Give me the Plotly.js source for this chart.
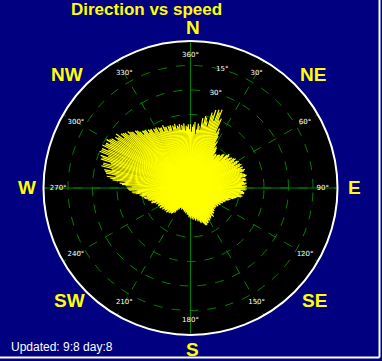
<!DOCTYPE html>
<html>
<head>
<meta charset="utf-8">
<script src="https://cdn.plot.ly/plotly-3.0.1.min.js"></script>
<style>
html,body{margin:0;padding:0;background:#000080;}
#chart{width:382px;height:361px;}
</style>
</head>
<body>
<div id="chart"></div>
<script>
// Wind samples: direction (degrees, clockwise from north) and speed (ring units)
const direction = [0,2,4,6,8,10,12,14,16,18,20,22,24,26,28,30,32,34,36,38,40,42,44,46,48,50,52,54,56,58,
  60,62,64,66,68,70,72,74,76,78,80,82,84,86,88,90,92,94,96,98,100,102,104,106,108,110,112,114,116,118,
  120,122,124,126,128,130,132,134,136,138,140,142,144,146,148,150,152,154,156,158,160,162,164,166,168,170,172,174,176,178,
  180,182,184,186,188,190,192,194,196,198,200,202,204,206,208,210,212,214,216,218,220,222,224,226,228,230,232,234,236,238,
  240,242,244,246,248,250,252,254,256,258,260,262,264,266,268,270,272,274,276,278,280,282,284,286,288,290,292,294,296,298,
  300,302,304,306,308,310,312,314,316,318,320,322,324,326,328,330,332,334,336,338,340,342,344,346,348,350,352,354,356,358];
const speed = [2.6,2.5,2.7,2.4,2.55,2.9,3.0,2.8,3.2,3.35,3.4,3.45,3.1,2.7,2.4,2.2,2.0,1.85,1.7,1.7,1.75,1.8,1.9,1.85,2.0,2.05,1.95,2.1,2.15,2.1,
  2.2,2.15,2.25,2.2,2.3,2.25,2.3,2.2,2.3,2.3,2.25,2.3,2.2,2.25,2.3,2.2,2.25,2.15,2.2,2.1,2.1,1.9,1.8,1.7,1.6,1.55,1.5,1.45,1.4,1.35,
  1.3,1.3,1.25,1.3,1.2,1.3,1.25,1.35,1.3,1.4,1.35,1.45,1.4,1.5,1.45,1.5,1.55,1.6,1.65,1.62,1.5,1.45,1.43,1.35,1.3,1.3,1.25,1.2,1.25,1.15,
  1.2,1.15,1.1,1.05,1.0,1.0,0.95,0.95,0.9,0.95,0.9,0.9,0.85,0.9,0.87,0.95,1.05,1.15,1.25,1.3,1.3,1.25,1.35,1.3,1.35,1.35,1.4,1.35,1.4,1.45,
  1.4,1.5,1.45,1.5,1.6,1.7,1.65,1.8,1.85,1.95,2.0,2.1,2.25,2.4,2.5,2.6,2.65,2.9,3.2,3.45,3.5,3.6,3.75,3.7,3.85,3.9,4.0,3.95,4.0,3.9,
  3.95,3.8,3.7,3.75,3.6,3.5,3.45,3.3,3.25,3.1,3.05,3.0,2.95,2.9,2.85,2.85,2.8,2.75,2.8,2.7,2.7,2.7,2.65,2.7,2.6,2.65,2.6,2.65,2.55,2.6];
const direction2 = [1,3,5,7,9,11,13,15,17,19,21,23,25,27,29,31,33,35,37,39,41,43,45,47,49,51,53,55,57,59,
  61,63,65,67,69,71,73,75,77,79,81,83,85,87,89,91,93,95,97,99,101,103,105,107,109,111,113,115,117,119,
  121,123,125,127,129,131,133,135,137,139,141,143,145,147,149,151,153,155,157,159,161,163,165,167,169,171,173,175,177,179,
  181,183,185,187,189,191,193,195,197,199,201,203,205,207,209,211,213,215,217,219,221,223,225,227,229,231,233,235,237,239,
  241,243,245,247,249,251,253,255,257,259,261,263,265,267,269,271,273,275,277,279,281,283,285,287,289,291,293,295,297,299,
  301,303,305,307,309,311,313,315,317,319,321,323,325,327,329,331,333,335,337,339,341,343,345,347,349,351,353,355,357,359];
const speed2 = [2.3,2.6,2.2,2.65,2.4,2.7,2.95,2.6,3.1,2.9,3.3,3.0,2.5,2.55,2.1,1.9,1.95,1.6,1.75,1.5,1.8,1.7,1.95,1.6,2.1,1.8,2.05,1.9,2.2,1.95,
  2.25,2.0,2.3,2.05,2.2,2.35,2.1,2.25,2.35,2.1,2.3,2.15,2.3,2.1,2.25,2.3,2.05,2.2,2.0,2.15,1.95,1.85,1.6,1.65,1.45,1.5,1.35,1.45,1.3,1.4,
  1.2,1.35,1.15,1.3,1.25,1.1,1.3,1.2,1.4,1.3,1.5,1.3,1.45,1.35,1.55,1.4,1.6,1.5,1.65,1.55,1.4,1.5,1.3,1.4,1.2,1.35,1.15,1.3,1.1,1.25,
  1.05,1.2,1.0,1.1,0.95,1.05,0.85,1.0,0.8,0.9,0.85,0.95,0.8,0.9,1.0,0.9,1.2,1.1,1.3,1.2,1.35,1.2,1.4,1.25,1.4,1.3,1.45,1.3,1.5,1.35,
  1.5,1.4,1.55,1.45,1.7,1.55,1.75,1.7,1.9,1.8,2.05,2.0,2.35,2.2,2.55,2.4,2.8,2.7,3.3,3.1,3.55,3.3,3.7,3.4,3.8,3.6,3.95,3.7,3.9,3.75,
  3.85,3.55,3.6,3.4,3.55,3.3,3.35,3.1,3.2,2.9,3.0,2.8,2.9,2.7,2.8,2.6,2.75,2.55,2.7,2.5,2.65,2.45,2.6,2.5,2.55,2.4,2.55,2.35,2.5,2.4];

// Angular labels drawn inside the dial
const angleTicks = [0,30,60,90,120,150,180,210,240,270,300,330];
const angleTickText = ["360°","30°","60°","90°","120°","150°","180°","210°","240°","270°","300°","330°"];
// Speed ring labels
const ringTickValues = [4,5];
const ringTickText = ["30°","15°"];
const ringLabelAngle = 15;

const compass = ["N","NE","E","SE","S","SW","W","NW"];
const ringMax = 6;

// build spokes from centre
const spokeR = [], spokeT = [];
function addSpokes(dirs, spds) {
  for (let i = 0; i < dirs.length; i++) {
    spokeR.push(0, spds[i], null);
    spokeT.push(dirs[i], dirs[i], null);
  }
}
addSpokes(direction, speed);
addSpokes(direction2, speed2);

const crossR = [], crossT = [];
[0, 90].forEach(a => { crossR.push(ringMax, 0, ringMax, null); crossT.push(a, a, a + 180, null); });

const traces = [
  {type:'scatterpolar', r:crossR, theta:crossT, mode:'lines', line:{color:'#008000', width:1}, hoverinfo:'skip', connectgaps:false},
  {type:'scatterpolar', r:spokeR, theta:spokeT, mode:'lines', line:{color:'#FFFF00', width:1.2}, hoverinfo:'skip', connectgaps:false},
  {type:'scatterpolar', r:angleTicks.map(()=>5.4), theta:angleTicks, mode:'text', text:angleTickText,
   textfont:{color:'#FFFFFF', size:7, family:'DejaVu Sans'}, hoverinfo:'skip'},
  {type:'scatterpolar', r:ringTickValues, theta:ringTickValues.map(()=>ringLabelAngle), mode:'text', text:ringTickText,
   textfont:{color:'#FFFFFF', size:7, family:'DejaVu Sans'}, hoverinfo:'skip'}
];

const compassPos = {N:[193,27.5], NE:[313,74], E:[354,187], SE:[314,300], S:[192.5,349], SW:[69,300], W:[27,187], NW:[66.5,74]};
const W = 382, H = 361;
const annotations = compass.map(c => ({
  text:c, xref:'paper', yref:'paper', x:compassPos[c][0]/W, y:1-compassPos[c][1]/H,
  xanchor:'center', yanchor:'middle', showarrow:false,
  font:{family:'Liberation Sans, Arial, sans-serif', size:19, color:'#FFFF00', weight:'bold'}
}));
annotations.push({text:'Direction vs speed', xref:'paper', yref:'paper', x:146.5/W, y:1-10/H,
  xanchor:'center', yanchor:'middle', showarrow:false,
  font:{family:'Liberation Sans, Arial, sans-serif', size:17, color:'#FFFF00', weight:'bold'}});
annotations.push({text:'Updated: 9:8 day:8', xref:'paper', yref:'paper', x:9/W, y:1-347/H,
  xanchor:'left', yanchor:'middle', showarrow:false,
  font:{family:'Liberation Sans, Arial, sans-serif', size:12, color:'#FFFFFF'}});

const layout = {
  width:W, height:H, margin:{l:0,r:0,t:0,b:0},
  paper_bgcolor:'#000080', showlegend:false,
  polar:{
    domain:{x:[43.5/W, 337.5/W], y:[1-335/H, 1-41/H]},
    bgcolor:'#000000',
    angularaxis:{rotation:90, direction:'clockwise', dtick:30, showticklabels:false, ticks:'',
      gridcolor:'#008000', griddash:'dash', gridwidth:1, linecolor:'#FFFFFF', linewidth:2, showline:true},
    radialaxis:{range:[0,ringMax], dtick:1, showticklabels:false, ticks:'', showline:false,
      gridcolor:'#008000', griddash:'dash', gridwidth:1}
  },
  annotations:annotations,
  shapes:[
    {type:'line', xref:'paper', yref:'paper', x0:379.5/W, x1:379.5/W, y0:1-357.5/H, y1:1, line:{color:'#FFFFFF', width:2}},
    {type:'line', xref:'paper', yref:'paper', x0:0, x1:379.5/W, y0:1-357.5/H, y1:1-357.5/H, line:{color:'#FFFFFF', width:2}}
  ]
};
Plotly.newPlot('chart', traces, layout, {displayModeBar:false, staticPlot:true});
</script>
</body>
</html>
